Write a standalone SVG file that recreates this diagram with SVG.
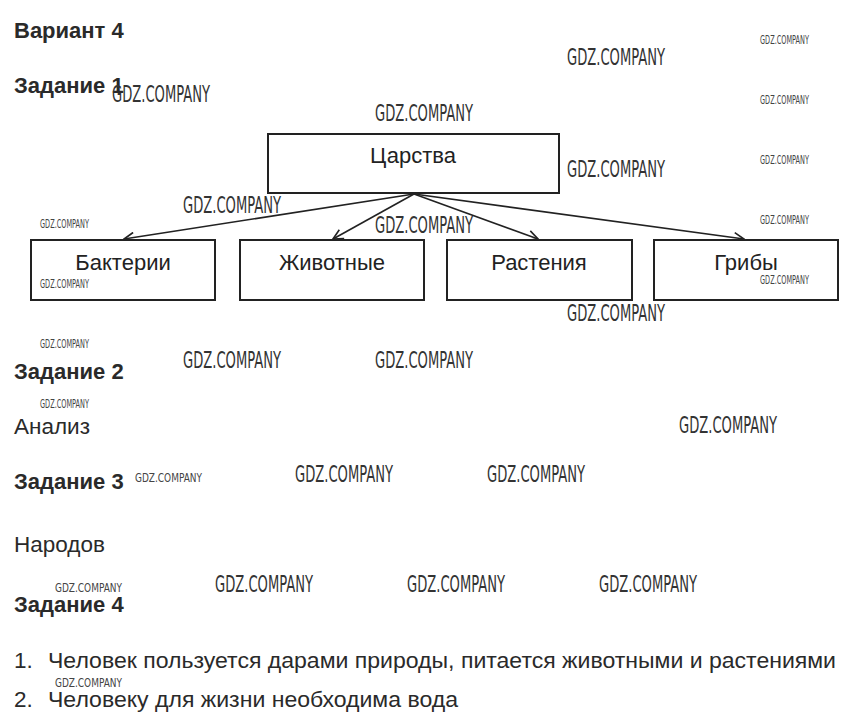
<svg xmlns="http://www.w3.org/2000/svg" width="854" height="727" viewBox="0 0 854 727">
<style>
  .h{font-family:"Liberation Sans",Arial,sans-serif;font-weight:bold;font-size:22px;fill:#2a2a2a}
  .t{font-family:"Liberation Sans",Arial,sans-serif;font-size:22.5px;fill:#2a2a2a}
  .lbl{font-family:"Liberation Sans",Arial,sans-serif;font-size:22px;fill:#222;text-anchor:middle}
  .box{fill:#fff;stroke:#222;stroke-width:2}
  .edge{fill:none;stroke:#222;stroke-width:1.6}
  .wl{font-family:"Liberation Sans Narrow","DejaVu Sans Condensed","Liberation Sans",sans-serif;font-size:23px;fill:#333;font-weight:300}
  .ws{font-family:"Liberation Sans Narrow","DejaVu Sans Condensed","Liberation Sans",sans-serif;font-size:12px;fill:#444}
</style>
<defs>
  <marker id="arr" viewBox="0 0 12 12" refX="11" refY="6" markerWidth="12" markerHeight="12" markerUnits="userSpaceOnUse" orient="auto">
    <path d="M1,1 L11,6 L1,11" fill="none" stroke="#222" stroke-width="1.6"/>
  </marker>
</defs>
<rect width="854" height="727" fill="#fff"/>

<text class="h" x="14" y="38">Вариант 4</text>
<text class="h" x="14" y="93">Задание 1</text>

<g id="edges">
  <line class="edge" x1="414" y1="194" x2="124" y2="239" marker-end="url(#arr)"/>
  <line class="edge" x1="414" y1="194" x2="333" y2="239" marker-end="url(#arr)"/>
  <line class="edge" x1="414" y1="194" x2="538" y2="239" marker-end="url(#arr)"/>
  <line class="edge" x1="414" y1="194" x2="744" y2="239" marker-end="url(#arr)"/>
</g>

<g id="n_tsarstva">
  <rect class="box" x="268" y="134" width="291" height="59"/>
  <text class="lbl" x="413" y="163">Царства</text>
</g>
<g id="n_bakterii">
  <rect class="box" x="31" y="240" width="184" height="60"/>
  <text class="lbl" x="123" y="270">Бактерии</text>
</g>
<g id="n_zhivotnye">
  <rect class="box" x="240" y="240" width="184" height="60"/>
  <text class="lbl" x="332" y="270">Животные</text>
</g>
<g id="n_rasteniya">
  <rect class="box" x="447" y="240" width="185" height="60"/>
  <text class="lbl" x="539" y="270">Растения</text>
</g>
<g id="n_griby">
  <rect class="box" x="654" y="240" width="184" height="60"/>
  <text class="lbl" x="746" y="270">Грибы</text>
</g>

<text class="h" x="14" y="379">Задание 2</text>
<text class="t" x="14" y="434">Анализ</text>
<text class="h" x="14" y="489">Задание 3</text>
<text class="t" x="14" y="552">Народов</text>
<text class="h" x="14" y="612">Задание 4</text>
<text class="t" x="14" y="668">1.</text>
<text class="t" x="48" y="668" textLength="788" lengthAdjust="spacingAndGlyphs">Человек пользуется дарами природы, питается животными и растениями</text>
<text class="t" x="14" y="707">2.</text>
<text class="t" x="48" y="707" textLength="410" lengthAdjust="spacingAndGlyphs">Человеку для жизни необходима вода</text>

<g id="watermarks">
  <text class="wl" x="567" y="65" textLength="98" lengthAdjust="spacingAndGlyphs">GDZ.COMPANY</text>
  <text class="wl" x="112" y="102" textLength="98" lengthAdjust="spacingAndGlyphs">GDZ.COMPANY</text>
  <text class="wl" x="375" y="121" textLength="98" lengthAdjust="spacingAndGlyphs">GDZ.COMPANY</text>
  <text class="wl" x="567" y="177" textLength="98" lengthAdjust="spacingAndGlyphs">GDZ.COMPANY</text>
  <text class="wl" x="183" y="213" textLength="98" lengthAdjust="spacingAndGlyphs">GDZ.COMPANY</text>
  <text class="wl" x="375" y="233" textLength="98" lengthAdjust="spacingAndGlyphs">GDZ.COMPANY</text>
  <text class="wl" x="567" y="321" textLength="98" lengthAdjust="spacingAndGlyphs">GDZ.COMPANY</text>
  <text class="wl" x="183" y="368" textLength="98" lengthAdjust="spacingAndGlyphs">GDZ.COMPANY</text>
  <text class="wl" x="375" y="368" textLength="98" lengthAdjust="spacingAndGlyphs">GDZ.COMPANY</text>
  <text class="wl" x="679" y="433" textLength="98" lengthAdjust="spacingAndGlyphs">GDZ.COMPANY</text>
  <text class="wl" x="295" y="482" textLength="98" lengthAdjust="spacingAndGlyphs">GDZ.COMPANY</text>
  <text class="wl" x="487" y="482" textLength="98" lengthAdjust="spacingAndGlyphs">GDZ.COMPANY</text>
  <text class="wl" x="215" y="592" textLength="98" lengthAdjust="spacingAndGlyphs">GDZ.COMPANY</text>
  <text class="wl" x="407" y="592" textLength="98" lengthAdjust="spacingAndGlyphs">GDZ.COMPANY</text>
  <text class="wl" x="599" y="592" textLength="98" lengthAdjust="spacingAndGlyphs">GDZ.COMPANY</text>
  <text class="ws" x="760" y="44" textLength="49" lengthAdjust="spacingAndGlyphs">GDZ.COMPANY</text>
  <text class="ws" x="760" y="104" textLength="49" lengthAdjust="spacingAndGlyphs">GDZ.COMPANY</text>
  <text class="ws" x="760" y="164" textLength="49" lengthAdjust="spacingAndGlyphs">GDZ.COMPANY</text>
  <text class="ws" x="760" y="224" textLength="49" lengthAdjust="spacingAndGlyphs">GDZ.COMPANY</text>
  <text class="ws" x="760" y="284" textLength="49" lengthAdjust="spacingAndGlyphs">GDZ.COMPANY</text>
  <text class="ws" x="40" y="228" textLength="49" lengthAdjust="spacingAndGlyphs">GDZ.COMPANY</text>
  <text class="ws" x="40" y="288" textLength="49" lengthAdjust="spacingAndGlyphs">GDZ.COMPANY</text>
  <text class="ws" x="40" y="348" textLength="49" lengthAdjust="spacingAndGlyphs">GDZ.COMPANY</text>
  <text class="ws" x="40" y="408" textLength="49" lengthAdjust="spacingAndGlyphs">GDZ.COMPANY</text>
  <text class="ws" x="135" y="482" textLength="67" lengthAdjust="spacingAndGlyphs">GDZ.COMPANY</text>
  <text class="ws" x="55" y="592" textLength="67" lengthAdjust="spacingAndGlyphs">GDZ.COMPANY</text>
  <text class="ws" x="55" y="687" textLength="67" lengthAdjust="spacingAndGlyphs">GDZ.COMPANY</text>
</g>
</svg>
